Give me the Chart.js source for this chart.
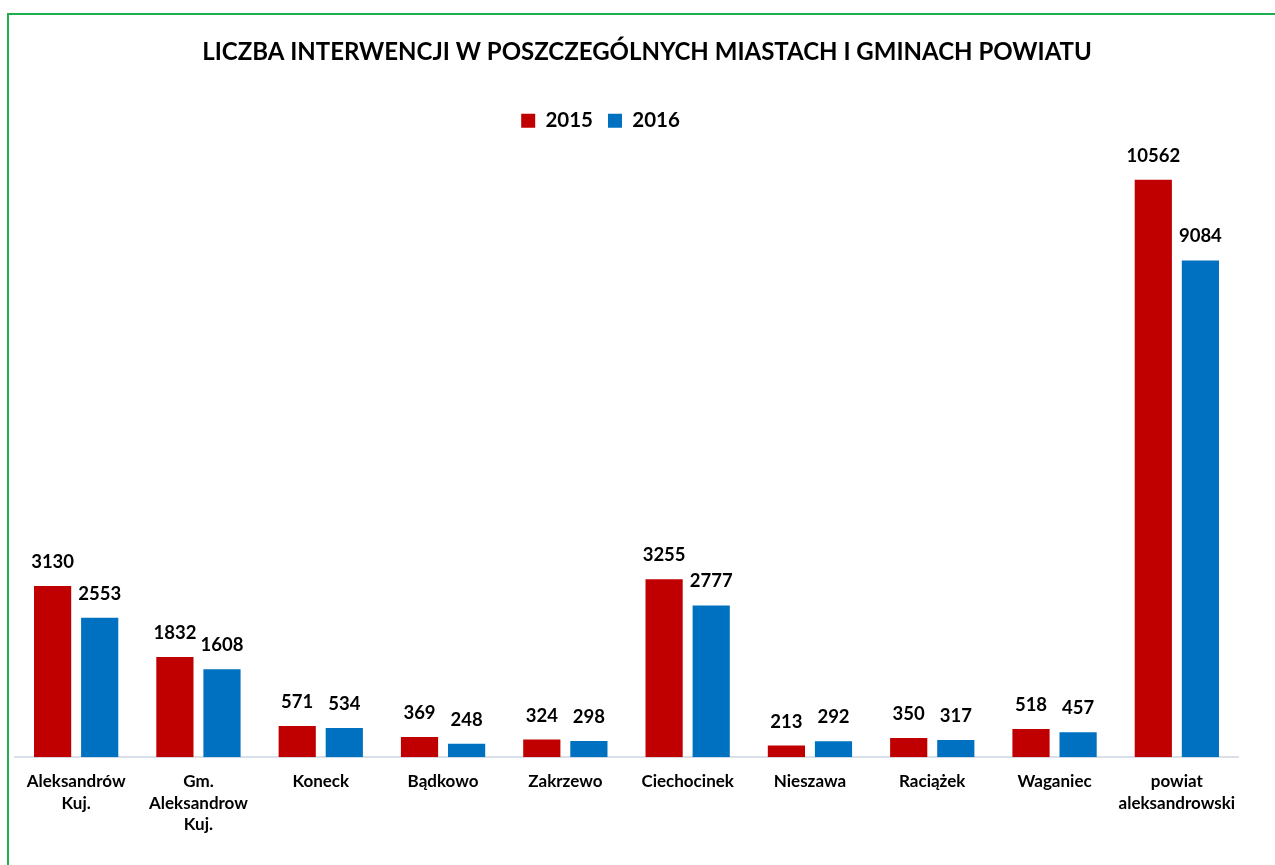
<!DOCTYPE html>
<html>
<head>
<meta charset="utf-8">
<script src="https://cdn.jsdelivr.net/npm/chart.js@4.4.1/dist/chart.umd.min.js"></script>
<style>
  html, body { margin: 0; padding: 0; background: #fff; }
  #wrap { position: relative; width: 1275px; height: 865px; overflow: hidden; }
  #frame { position: absolute; left: 7px; top: 13px; width: 1300px; height: 900px; border: 2px solid #1fae4f; box-sizing: border-box; }
  #interwencjeChart { position: absolute; left: 0; top: 0; }
</style>
</head>
<body>
<div id="wrap">
  <div id="frame"></div>
  <canvas id="interwencjeChart" width="1275" height="865"></canvas>
</div>
<script>
// dane z wykresu
const categories = [
    ['Aleksandrów', 'Kuj.'],
    ['Gm.', 'Aleksandrow', 'Kuj.'],
    'Koneck',
    'Bądkowo',
    'Zakrzewo',
    'Ciechocinek',
    'Nieszawa',
    'Raciążek',
    'Waganiec',
    ['powiat', 'aleksandrowski']
];
const values2015 = [3130, 1832, 571, 369, 324, 3255, 213, 350, 518, 10562];
const values2016 = [2553, 1608, 534, 248, 298, 2777, 292, 317, 457, 9084];
const seriesLabels = ['2015', '2016'];
const chartTitle = 'LICZBA INTERWENCJI W POSZCZEGÓLNYCH MIASTACH I GMINACH POWIATU';
const yMax = 12000;

const fontFamily = "Lato, 'Open Sans', sans-serif";

// tytuł rysowany osobno, bo w oryginale nie jest wyśrodkowany względem osi
const titlePlugin = {
    id: 'customTitle',
    afterDraw(chart) {
        const ctx = chart.ctx;
        ctx.save();
        ctx.font = "bold 24px " + fontFamily;
        ctx.fillStyle = '#000';
        ctx.textAlign = 'center';
        ctx.textBaseline = 'middle';
        ctx.fillText(chartTitle, 647, 52);
        ctx.restore();
    }
};

// przesunięcie legendy (w Excelu leży nad obszarem wykresu, trochę w lewo)
const legendShift = {
    id: 'legendShift',
    afterUpdate(chart) {
        const lg = chart.legend;
        if (!lg) return;
        const dx = -26, dy = 40;
        lg.left += dx; lg.right += dx;
        lg.top += dy; lg.bottom += dy;
    }
};

// wartości nad słupkami
const valueLabels = {
    id: 'valueLabels',
    afterDatasetsDraw(chart) {
        const ctx = chart.ctx;
        ctx.save();
        ctx.font = "bold 18.5px " + fontFamily;
        ctx.fillStyle = '#000';
        ctx.textAlign = 'center';
        ctx.textBaseline = 'middle';
        chart.data.datasets.forEach((ds, i) => {
            const meta = chart.getDatasetMeta(i);
            meta.data.forEach((bar, j) => {
                ctx.fillText(ds.data[j], bar.x, bar.y - 24);
            });
        });
        ctx.restore();
    }
};

const ctx = document.getElementById('interwencjeChart').getContext('2d');
new Chart(ctx, {
    type: 'bar',
    data: {
        labels: categories,
        datasets: [{
            label: seriesLabels[0],
            data: values2015,
            backgroundColor: '#C00000',
            borderWidth: 0,
            categoryPercentage: 0.77,
            barPercentage: 0.79
        }, {
            label: seriesLabels[1],
            data: values2016,
            backgroundColor: '#0070C0',
            borderWidth: 0,
            categoryPercentage: 0.77,
            barPercentage: 0.79
        }]
    },
    options: {
        responsive: false,
        animation: false,
        layout: { padding: { left: 15, right: 37, top: 55.5, bottom: 24 } },
        plugins: {
            title: { display: false },
            legend: {
                display: true,
                labels: {
                    color: '#000',
                    font: { family: fontFamily, size: 20.5, weight: 'bold' },
                    boxWidth: 14,
                    boxHeight: 14,
                    padding: 15
                }
            },
            tooltip: { enabled: false }
        },
        scales: {
            x: {
                grid: { display: false },
                border: { display: true, color: '#d9e0ea', width: 2 },
                ticks: {
                    color: '#000',
                    font: { family: fontFamily, size: 17, weight: 'bold', lineHeight: 1.25 },
                    padding: 6,
                    maxRotation: 0,
                    autoSkip: false
                }
            },
            y: {
                display: false,
                min: 0,
                max: yMax
            }
        }
    },
    plugins: [titlePlugin, legendShift, valueLabels]
});
</script>
</body>
</html>
